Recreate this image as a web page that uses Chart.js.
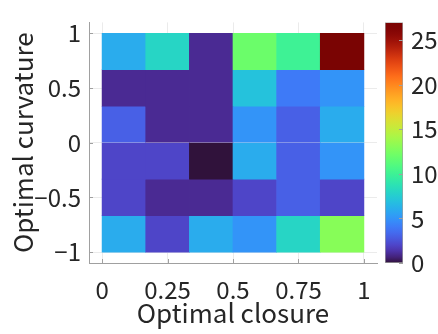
<!DOCTYPE html>
<html>
<head>
<meta charset="utf-8">
<script src="https://cdn.jsdelivr.net/npm/chart.js@4/dist/chart.umd.min.js"></script>
<style>
  body { margin: 0; background: #fff; }
  #wrap { position: relative; width: 438px; height: 334px; }
  #heat { position: absolute; left: 0; top: 0; }
  #cbar { position: absolute; left: 380px; top: 0; }
</style>
</head>
<body>
<div id="wrap">
  <canvas id="heat" width="438" height="334"></canvas>
  <canvas id="cbar" width="58" height="334"></canvas>
</div>
<script>
// bin centres of the 6x6 grid
const closureBins = [1/12, 3/12, 5/12, 7/12, 9/12, 11/12];
const curvatureBins = [5/6, 1/2, 1/6, -1/6, -1/2, -5/6]; // top row first
const binHalfHeight = 1/6;

// counts per cell, rows from curvature 5/6 (top) down to -5/6 (bottom)
const countsRow1 = [6, 8, 1, 12, 10, 27];
const countsRow2 = [1, 1, 1, 7, 4, 5];
const countsRow3 = [3, 1, 1, 5, 3, 6];
const countsRow4 = [2, 2, 0, 6, 3, 5];
const countsRow5 = [2, 1, 1, 2, 3, 2];
const countsRow6 = [6, 2, 6, 5, 8, 13];
const counts = [countsRow1, countsRow2, countsRow3, countsRow4, countsRow5, countsRow6];

const xTicks = [0, 0.25, 0.5, 0.75, 1];
const yTicks = [-1, -0.5, 0, 0.5, 1];
const colorLimits = [0, 27];
const colorTicks = [0, 5, 10, 15, 20, 25];

const textColor = '#262626';
const axisColor = '#a0a0a0';
const fontFamily = '"Noto Sans CJK JP", "Noto Sans", sans-serif';

function turbo(t) { // polynomial fit of turbo, with the two ends pulled to the real colormap
    t = Math.max(0, Math.min(1, t));
    let r = 0.13572138 + t*(4.61539260 + t*(-42.66032258 + t*(132.13108234 + t*(-152.94239396 + t*59.28637943))));
    let g = 0.09140261 + t*(2.19418839 + t*(4.84296658 + t*(-14.18503333 + t*(4.27729857 + t*2.82956604))));
    let b = 0.10667330 + t*(12.64194608 + t*(-60.58204836 + t*(110.36276771 + t*(-89.90310912 + t*27.34824973))));
    const w0 = Math.max(0, 1 - t / 0.1);
    const w1 = Math.max(0, 1 - (1 - t) / 0.15);
    r += 0.0542 * w0 - 0.0863 * w1;
    g += -0.0196 * w0 - 0.0347 * w1;
    b += 0.1255 * w0 + 0.0361 * w1;
    const c = v => Math.round(255 * Math.max(0, Math.min(1, v)));
    return `rgb(${c(r)}, ${c(g)}, ${c(b)})`;
}

function countColor(v) {
    return turbo((v - colorLimits[0]) / (colorLimits[1] - colorLimits[0]));
}

const minusLabel = v => String(v).replace('-', '\u2212');

// short tick marks drawn inward, like the original axes
const innerTicks = {
    id: 'innerTicks',
    afterDraw(chart, args, opts) {
        const ctx = chart.ctx;
        const area = chart.chartArea;
        ctx.save();
        ctx.strokeStyle = axisColor;
        ctx.lineWidth = 1;
        ctx.beginPath();
        (opts.x || []).forEach(v => {
            const px = Math.round(chart.scales.x.getPixelForValue(v)) + 0.5;
            ctx.moveTo(px, area.bottom);
            ctx.lineTo(px, area.bottom - 4);
        });
        (opts.y || []).forEach(v => {
            const py = Math.round(chart.scales.y.getPixelForValue(v)) + 0.5;
            if (opts.side === 'right') {
                ctx.moveTo(area.right, py);
                ctx.lineTo(area.right - 4, py);
            } else {
                ctx.moveTo(area.left, py);
                ctx.lineTo(area.left + 4, py);
            }
        });
        ctx.stroke();
        ctx.restore();
    }
};

// Heatmap
new Chart(document.getElementById('heat').getContext('2d'), {
    type: 'bar',
    data: {
        datasets: counts.map((row, i) => ({
            label: 'row' + i,
            data: row.map((v, j) => ({ x: closureBins[j], y: [curvatureBins[i] - binHalfHeight, curvatureBins[i] + binHalfHeight] })),
            backgroundColor: row.map(v => countColor(v)),
            borderWidth: 0,
            grouped: false,
            barPercentage: 1,
            categoryPercentage: 1
        }))
    },
    options: {
        responsive: false,
        animation: false,
        devicePixelRatio: 1,
        layout: { padding: { top: 8, right: 61, left: 0, bottom: 0 } },
        plugins: {
            legend: { display: false },
            tooltip: { enabled: false },
            innerTicks: { x: xTicks, y: yTicks }
        },
        scales: {
            x: {
                type: 'linear',
                offset: false,
                min: -0.05,
                max: 1.05,
                afterBuildTicks: s => { s.ticks = xTicks.map(v => ({ value: v })); },
                afterFit: s => { s.height = 71; },
                grid: { color: '#ebebeb', drawTicks: false, offset: false },
                border: { display: true, color: axisColor },
                ticks: {
                    padding: 12,
                    color: textColor,
                    font: { family: fontFamily, size: 24 },
                    callback: v => minusLabel(v)
                },
                title: {
                    display: true,
                    text: 'Optimal closure',
                    color: textColor,
                    font: { family: fontFamily, size: 26 },
                    padding: { top: 0, bottom: 5 }
                }
            },
            y: {
                type: 'linear',
                min: -1.1,
                max: 1.1,
                afterBuildTicks: s => { s.ticks = yTicks.map(v => ({ value: v })); },
                afterFit: s => { s.width = 89; },
                grid: { color: '#ebebeb', drawTicks: false },
                border: { display: true, color: axisColor },
                ticks: {
                    padding: 8,
                    color: textColor,
                    font: { family: fontFamily, size: 24 },
                    callback: v => minusLabel(v)
                },
                title: {
                    display: true,
                    text: 'Optimal curvature',
                    color: textColor,
                    font: { family: fontFamily, size: 26 },
                    padding: { top: 8, bottom: 0 }
                }
            }
        }
    },
    plugins: [innerTicks]
});

// Colorbar
new Chart(document.getElementById('cbar').getContext('2d'), {
    type: 'bar',
    data: {
        labels: ['count'],
        datasets: [{
            data: [colorLimits],
            backgroundColor: ctx => {
                const area = ctx.chart.chartArea;
                if (!area) return 'transparent';
                const g = ctx.chart.ctx.createLinearGradient(0, area.bottom, 0, area.top);
                for (let k = 0; k <= 40; k++) g.addColorStop(k / 40, turbo(k / 40));
                return g;
            },
            borderColor: axisColor,
            borderWidth: 1,
            borderSkipped: false,
            barPercentage: 1,
            categoryPercentage: 1
        }]
    },
    options: {
        responsive: false,
        animation: false,
        devicePixelRatio: 1,
        layout: { padding: { top: 8, right: 0, left: 5, bottom: 71 } },
        plugins: {
            legend: { display: false },
            tooltip: { enabled: false },
            innerTicks: { y: colorTicks, side: 'right' }
        },
        scales: {
            x: { display: false },
            y: {
                position: 'right',
                min: colorLimits[0],
                max: colorLimits[1],
                afterBuildTicks: s => { s.ticks = colorTicks.map(v => ({ value: v })); },
                afterFit: s => { s.width = 35; },
                grid: { display: false, drawTicks: false },
                border: { display: false },
                ticks: {
                    padding: 8,
                    color: textColor,
                    font: { family: fontFamily, size: 24 }
                }
            }
        }
    },
    plugins: [innerTicks]
});
</script>
</body>
</html>
